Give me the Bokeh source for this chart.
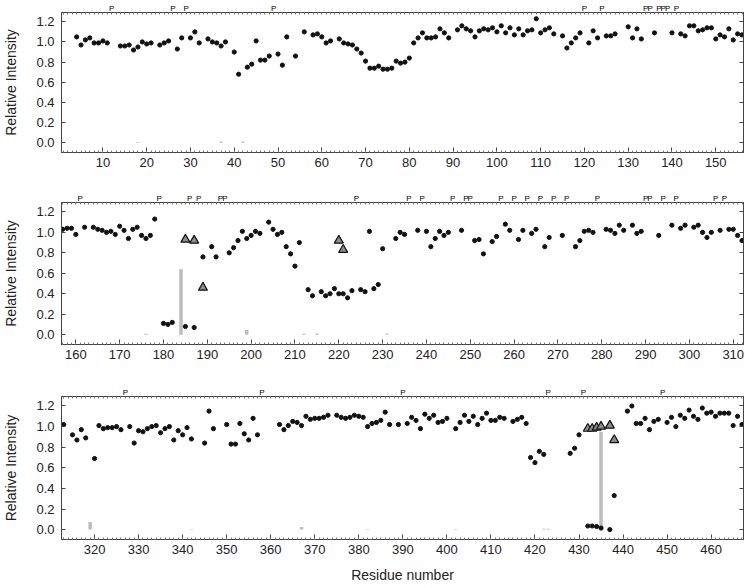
import math
from bokeh.plotting import figure
from bokeh.models import (Range1d, LinearAxis, FixedTicker, SingleIntervalTicker,
                          CustomJSTickFormatter, PrintfTickFormatter)
from bokeh.layouts import column
from bokeh.embed import file_html
from bokeh.resources import INLINE

# ---------------- data ----------------
y_ticks = [0.0, 0.2, 0.4, 0.6, 0.8, 1.0, 1.2]

# panel 1 (residues 1-156)
res1 = [4, 5, 6, 7, 8, 9, 10, 11, 14, 15, 16, 17, 18, 19, 20, 21, 23, 24, 25, 27, 28, 30, 31, 32,
        34, 35, 36, 37, 38, 40, 41, 43, 44, 45, 46, 47, 48, 50, 51, 52, 54, 56, 58, 59, 60, 61, 62,
        64, 65, 66, 67, 68, 69, 70, 71, 72, 73, 74, 75, 76, 77, 78, 79, 80, 81, 82, 83, 84, 85, 86,
        87, 88, 89, 91, 92, 93, 94, 95, 96, 97, 98, 99, 100, 101, 102, 103, 104, 105, 106, 107, 108,
        109, 110, 111, 112, 113, 115, 116, 117, 118, 119, 121, 122, 123, 125, 126, 127, 130, 131,
        132, 133, 136, 140, 142, 143, 144, 145, 146, 147, 148, 149, 150, 151, 152, 153, 154, 155, 156]
int1 = [1.05, 0.97, 1.02, 1.04, 0.99, 0.99, 1.01, 0.99,
        0.96, 0.96, 0.97, 0.92, 0.95, 1.00, 0.98, 0.99,
        0.97, 0.99, 1.01, 0.93, 1.04, 1.04, 1.10, 0.99,
        1.03, 1.00, 0.99, 0.96, 1.00, 0.90, 0.68,
        0.75, 0.78, 1.01, 0.82, 0.82, 0.86, 0.88, 0.77, 1.05, 0.86, 1.10,
        1.07, 1.08, 1.05, 0.99, 1.01,
        1.03, 0.99, 0.98, 0.97, 0.93, 0.89, 0.81, 0.74, 0.74, 0.76, 0.73, 0.73, 0.74, 0.81, 0.79,
        0.80, 0.84, 0.99, 1.04, 1.09, 1.04, 1.04, 1.05, 1.13, 1.09, 1.04,
        1.12, 1.16, 1.13, 1.11, 1.05, 1.11, 1.13, 1.12, 1.14, 1.10, 1.16, 1.09, 1.14, 1.07, 1.13,
        1.07, 1.11, 1.12, 1.23, 1.09, 1.12, 1.14, 1.08,
        1.06, 0.94, 0.99, 1.04, 1.09, 0.99, 1.11, 1.04, 1.06, 1.06, 1.08,
        1.15, 1.04, 1.13, 1.03, 1.09, 1.09,
        1.08, 1.06, 1.16, 1.16, 1.11, 1.12, 1.14, 1.14, 1.03, 1.07, 1.05, 1.13, 1.02, 1.08, 1.07]
tri1_res = []
tri1_val = []
bar1_res = [18, 37, 42]
bar1_val = [0.008, 0.012, 0.012]
pro1 = [12, 26, 29, 49, 120, 124, 134, 135, 137, 138, 139, 141]

# panel 2 (residues 157-312)
res2 = [157, 158, 159, 160, 162, 164, 165, 166, 167, 168, 169, 170, 171, 172, 173, 174, 175, 176,
        177, 178, 180, 181, 182, 185, 187, 189, 191, 192, 195, 196, 197, 198, 199, 200, 201, 202,
        204, 205, 206, 207, 208, 209, 210, 211, 213, 214, 216, 217, 218, 219, 220, 221, 222, 223,
        225, 226, 227, 228, 229, 230, 233, 234, 235, 238, 240, 241, 242, 243, 244, 245, 248, 251,
        252, 253, 255, 256, 258, 259, 261, 262, 264, 265, 267, 268, 271, 274, 275, 276, 277, 278,
        281, 282, 283, 284, 285, 287, 288, 289, 293, 296, 298, 299, 301, 302, 303, 304, 305, 307,
        309, 310, 311, 312]
int2 = [1.03, 1.04, 1.04, 0.98, 1.05,
        1.05, 1.03, 1.02, 1.00, 1.01, 0.98, 1.06, 1.02, 0.94, 1.03, 1.05, 0.97, 0.94, 0.97, 1.13,
        0.11, 0.10, 0.12, 0.08, 0.07, 0.76, 0.86, 0.76,
        0.80, 0.85, 0.92, 1.01, 0.94, 0.97, 1.01, 0.99,
        1.10, 1.03, 0.98, 1.00, 0.86, 0.79, 0.67, 0.90,
        0.44, 0.38, 0.42, 0.38, 0.40, 0.45, 0.40, 0.40, 0.36, 0.43,
        0.44, 0.42, 1.01, 0.45, 0.49, 0.84, 0.94, 1.00, 0.98, 1.02,
        1.01, 0.86, 0.94, 1.01, 0.97, 1.00, 1.02, 0.92,
        0.93, 0.79, 0.91, 0.96, 1.08, 1.02, 0.93, 1.02, 0.99, 1.03, 0.86, 0.95, 0.97,
        0.86, 0.92, 1.01, 1.02, 1.00, 1.03, 1.02, 0.99, 1.07, 1.02, 1.07, 0.99, 1.01, 0.97, 1.07,
        1.04, 1.07, 1.05, 1.07, 1.00, 0.95, 1.00, 1.02, 1.03, 1.03, 0.97, 0.92]
tri2_res = [185, 187, 189, 220, 221]
tri2_val = [0.93, 0.92, 0.46, 0.92, 0.83]
bar2_res = [176, 184, 199, 212, 215, 231]
bar2_val = [0.008, 0.64, 0.045, 0.01, 0.012, 0.008]
pro2 = [161, 179, 186, 188, 193, 194, 224, 236, 239, 246, 249, 250, 257, 260, 263, 266, 269,
        272, 279, 290, 291, 294, 297, 306, 308]

# panel 3 (residues 313-467)
res3 = [313, 315, 316, 317, 318, 320, 321, 322, 323, 324, 325, 326, 328, 329, 330, 331, 332, 333,
        334, 335, 336, 337, 338, 339, 340, 341, 342, 345, 346, 347, 350, 351, 352, 353, 354, 355,
        356, 357, 362, 363, 364, 365, 366, 367, 368, 369, 370, 371, 372, 373, 375, 376, 377, 378,
        379, 380, 381, 382, 383, 384, 385, 386, 387, 389, 391, 392, 393, 394, 395, 396, 397, 398,
        399, 400, 402, 403, 404, 405, 406, 407, 408, 409, 410, 411, 412, 413, 415, 416, 417, 418,
        419, 420, 421, 422, 428, 429, 430, 432, 433, 434, 435, 437, 438, 441, 442, 443, 444, 445,
        446, 447, 448, 450, 451, 452, 453, 454, 455, 456, 457, 458, 459, 460, 461, 462, 463, 464,
        465, 466, 467]
int3 = [1.02, 0.92, 0.87, 0.97, 0.89,
        0.69, 1.01, 0.98, 0.99, 0.99, 1.00, 0.97,
        1.00, 0.84, 0.96, 0.95, 0.98, 1.00, 1.01, 0.94, 0.98, 1.00, 0.87, 0.96, 0.92, 0.99, 0.88,
        0.84, 1.15, 0.98,
        1.02, 0.83, 0.83, 1.03, 0.93, 0.87, 1.08, 0.92,
        1.02, 0.97, 1.01, 1.05, 1.04, 1.01, 1.10, 1.07, 1.08, 1.08, 1.09, 1.11,
        1.11, 1.09, 1.08, 1.09, 1.11, 1.10, 1.09, 1.00, 1.03, 1.04, 1.06, 1.14, 1.02,
        1.02,
        1.03, 1.09, 1.06, 0.98, 1.12, 1.08, 1.11, 1.04, 1.05, 1.08,
        0.98, 1.04, 1.11, 1.05, 1.10, 1.02, 1.08, 1.13, 1.06, 1.06, 1.09, 1.08,
        1.05, 1.07, 1.09, 1.03, 0.70, 0.65, 0.76, 0.73,
        0.74, 0.79, 0.92,
        0.035, 0.035, 0.03, 0.015, 0.0, 0.33,
        1.15, 1.20, 1.03, 1.03, 1.08, 0.97, 1.05, 1.07,
        1.04, 1.09, 1.00, 1.11, 1.08, 1.16, 1.10, 1.07, 1.18, 1.13, 1.14, 1.10, 1.13, 1.13, 1.13,
        1.01, 1.10, 1.02]
tri3_res = [432, 433, 434, 435, 437, 438]
tri3_val = [0.98, 0.98, 0.99, 1.00, 1.01, 0.87]
bar3_res = [319, 342, 367, 382, 402, 422, 423, 435]
bar3_val = [0.075, 0.006, 0.025, 0.006, 0.006, 0.008, 0.008, 0.95]
pro3 = [327, 358, 390, 423, 431, 449]

# ---------------- styling ----------------
FONT = "Liberation Sans"
FRAME = "#444444"
TXT = "#222222"


def make_panel(x_lo, x_hi, res, val, tri_res, tri_val, bar_res, bar_val, pro,
               height, border_bottom, last):
    p = figure(width=744, height=height,
               x_range=Range1d(x_lo, x_hi), y_range=Range1d(-0.096, 1.292),
               x_axis_type=None, y_axis_type=None,
               output_backend="svg", toolbar_location=None,
               min_border_left=60, min_border_right=1,
               min_border_top=10, min_border_bottom=border_bottom)
    p.outline_line_color = FRAME
    p.outline_line_width = 1
    p.background_fill_color = "white"
    p.border_fill_color = "white"

    # bottom axis
    xb = LinearAxis(ticker=SingleIntervalTicker(interval=10, num_minor_ticks=10),
                    major_tick_in=5, major_tick_out=0, minor_tick_in=2, minor_tick_out=0,
                    axis_line_color=FRAME, major_tick_line_color=FRAME,
                    minor_tick_line_color="#777777",
                    major_label_text_font=FONT, major_label_text_font_size="13px",
                    major_label_text_color=TXT, major_label_standoff=5)
    if last:
        xb.axis_label = "Residue number"
        xb.axis_label_text_font = FONT
        xb.axis_label_text_font_size = "14px"
        xb.axis_label_text_font_style = "normal"
        xb.axis_label_text_color = TXT
        xb.axis_label_standoff = 10
    p.add_layout(xb, "below")

    # left axis
    yl = LinearAxis(ticker=FixedTicker(ticks=y_ticks),
                    formatter=PrintfTickFormatter(format="%.1f"),
                    major_tick_in=4, major_tick_out=0, minor_tick_in=0, minor_tick_out=0,
                    axis_line_color=FRAME, major_tick_line_color=FRAME,
                    major_label_text_font=FONT, major_label_text_font_size="13px",
                    major_label_text_color=TXT, major_label_standoff=7,
                    axis_label="Relative Intensity", axis_label_text_font=FONT,
                    axis_label_text_font_size="14px", axis_label_text_font_style="normal",
                    axis_label_text_color=TXT, axis_label_standoff=14)
    p.add_layout(yl, "left")

    # right axis (ticks only, no labels)
    yr = LinearAxis(ticker=FixedTicker(ticks=y_ticks),
                    formatter=CustomJSTickFormatter(code="return '';"),
                    major_tick_in=4, major_tick_out=0, minor_tick_in=0, minor_tick_out=0,
                    axis_line_color=FRAME, major_tick_line_color=FRAME,
                    major_label_standoff=0)
    p.add_layout(yr, "right")

    # top axis: proline markers
    minor = list(range(int(math.ceil(x_lo)), int(math.floor(x_hi)) + 1))
    xt = LinearAxis(ticker=FixedTicker(ticks=pro, minor_ticks=minor),
                    formatter=CustomJSTickFormatter(code="return 'P';"),
                    major_tick_in=0, major_tick_out=0, minor_tick_in=2, minor_tick_out=0,
                    axis_line_color=FRAME, minor_tick_line_color="#777777",
                    major_label_text_font=FONT, major_label_text_font_size="8px",
                    major_label_text_color="#000000", major_label_standoff=0)
    p.add_layout(xt, "above")

    p.vbar(x=bar_res, top=bar_val, bottom=0, width=0.8,
           fill_color="#bdbdbd", line_color=None)
    p.scatter(res, val, size=4.2, marker="circle", color="#111111")
    if tri_res:
        p.scatter(tri_res, tri_val, marker="triangle", size=9,
                  fill_color="#8c8c8c", line_color="#111111", line_width=1.2)
    return p


p1 = make_panel(0.54, 156.34, res1, int1, tri1_res, tri1_val, bar1_res, bar1_val, pro1,
                190, 38, False)
p2 = make_panel(156.73, 312.34, res2, int2, tri2_res, tri2_val, bar2_res, bar2_val, pro2,
                194, 40, False)
p3 = make_panel(312.5, 467.35, res3, int3, tri3_res, tri3_val, bar3_res, bar3_val, pro3,
                202, 47, True)

layout = column(p1, p2, p3)
open("out.html", "w").write(file_html(layout, INLINE))
